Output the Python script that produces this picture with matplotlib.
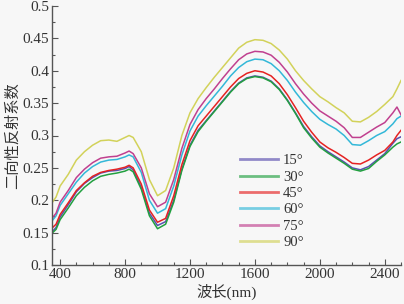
import matplotlib
matplotlib.use('Agg')
import matplotlib.pyplot as plt
from matplotlib.ticker import MultipleLocator

plt.rcParams['font.family'] = ['Liberation Serif', 'Noto Sans CJK SC']

# wavelength grid (nm)
wavelength = [350, 375, 400, 450, 500, 550, 600, 650, 700, 750, 800, 825, 850, 900,
              950, 1000, 1050, 1100, 1150, 1200, 1250, 1300, 1350, 1400, 1450, 1500,
              1550, 1600, 1650, 1700, 1750, 1800, 1850, 1900, 1950, 2000, 2050, 2100,
              2150, 2200, 2250, 2300, 2350, 2400, 2450, 2475, 2500]

brdf_15 = [0.151, 0.158, 0.174, 0.193, 0.213, 0.226, 0.235, 0.242, 0.245, 0.246, 0.249, 0.252,
           0.247, 0.220, 0.180, 0.161, 0.167, 0.200, 0.248, 0.285, 0.308, 0.323, 0.338, 0.353,
           0.368, 0.381, 0.389, 0.392, 0.390, 0.384, 0.372, 0.355, 0.335, 0.314, 0.298, 0.284,
           0.275, 0.267, 0.259, 0.250, 0.247, 0.252, 0.262, 0.272, 0.288, 0.295, 0.298]
brdf_30 = [0.149, 0.155, 0.170, 0.188, 0.207, 0.220, 0.230, 0.237, 0.240, 0.242, 0.245, 0.248,
           0.244, 0.217, 0.176, 0.156, 0.163, 0.197, 0.246, 0.283, 0.306, 0.322, 0.337, 0.352,
           0.367, 0.380, 0.388, 0.391, 0.389, 0.383, 0.371, 0.354, 0.334, 0.312, 0.296, 0.282,
           0.273, 0.265, 0.257, 0.248, 0.245, 0.249, 0.260, 0.270, 0.282, 0.287, 0.290]
brdf_45 = [0.157, 0.163, 0.178, 0.196, 0.215, 0.227, 0.237, 0.243, 0.246, 0.248, 0.251, 0.254,
           0.250, 0.225, 0.185, 0.166, 0.172, 0.207, 0.255, 0.292, 0.315, 0.330, 0.345, 0.360,
           0.375, 0.388, 0.396, 0.400, 0.398, 0.392, 0.380, 0.363, 0.343, 0.322, 0.305, 0.290,
           0.281, 0.274, 0.266, 0.257, 0.256, 0.262, 0.270, 0.277, 0.290, 0.300, 0.308]
brdf_60 = [0.168, 0.176, 0.192, 0.210, 0.228, 0.242, 0.252, 0.259, 0.262, 0.263, 0.267, 0.270,
           0.267, 0.243, 0.200, 0.180, 0.187, 0.222, 0.270, 0.307, 0.330, 0.346, 0.361, 0.376,
           0.392, 0.405, 0.414, 0.418, 0.417, 0.411, 0.400, 0.385, 0.367, 0.351, 0.337, 0.325,
           0.317, 0.310, 0.300, 0.286, 0.285, 0.292, 0.300, 0.306, 0.318, 0.326, 0.330]
brdf_75 = [0.172, 0.180, 0.197, 0.215, 0.235, 0.248, 0.258, 0.265, 0.267, 0.268, 0.273, 0.276,
           0.272, 0.250, 0.210, 0.190, 0.197, 0.232, 0.280, 0.317, 0.340, 0.357, 0.372, 0.388,
           0.403, 0.417, 0.426, 0.430, 0.429, 0.424, 0.413, 0.398, 0.380, 0.364, 0.350, 0.338,
           0.330, 0.322, 0.312, 0.297, 0.297, 0.305, 0.313, 0.320, 0.335, 0.344, 0.332]
brdf_90 = [0.196, 0.205, 0.222, 0.240, 0.262, 0.275, 0.285, 0.292, 0.293, 0.291, 0.297, 0.300,
           0.297, 0.275, 0.232, 0.207, 0.215, 0.250, 0.300, 0.335, 0.357, 0.374, 0.390, 0.405,
           0.420, 0.435, 0.444, 0.448, 0.447, 0.442, 0.432, 0.418, 0.400, 0.385, 0.372, 0.360,
           0.352, 0.343, 0.335, 0.322, 0.321, 0.328, 0.337, 0.348, 0.360, 0.372, 0.385]

labels = ['15°', '30°', '45°', '60°', '75°', '90°']
series = [brdf_15, brdf_30, brdf_45, brdf_60, brdf_75, brdf_90]
colors = ['#5a4fb0', '#22a040', '#e52222', '#33b8d8', '#c0408f', '#d2d25a']

bg = '#f7f7f7'
fig = plt.figure(figsize=(4.04, 3.04), dpi=100, facecolor=bg)
ax = fig.add_axes([52 / 404, 1 - 265 / 304, 349 / 404, 259 / 304], facecolor=bg)

for vals, lab, c in zip(series, labels, colors):
    ax.plot(wavelength, vals, color=c, lw=1.1, label=lab)

ax.set_xlim(350, 2500)
ax.set_ylim(0.1, 0.5)
ax.xaxis.set_major_locator(MultipleLocator(400))
ax.xaxis.set_minor_locator(MultipleLocator(100))
ax.yaxis.set_minor_locator(MultipleLocator(0.025))
ax.set_yticks([0.1, 0.15, 0.2, 0.25, 0.3, 0.35, 0.4, 0.45, 0.5])
ax.set_yticklabels(['0.1', '0.15', '0.2', '0.25', '0.3', '0.35', '0.4', '0.45', '0.5'])

for s in ['top', 'right']:
    ax.spines[s].set_visible(False)
for s in ['left', 'bottom']:
    ax.spines[s].set_color('#555555')
    ax.spines[s].set_linewidth(1.0)

ax.tick_params(which='major', direction='in', length=4, width=0.8, color='#555555',
               labelsize=11, labelcolor='#333333', pad=2)
ax.tick_params(which='minor', direction='in', length=2, width=0.8, color='#555555')

ax.set_xlabel('波长(nm)', fontsize=11, color='#333333', labelpad=2)
ax.set_ylabel('二向性反射系数', fontsize=11, color='#333333', labelpad=2)

leg = ax.legend(loc='upper left', bbox_to_anchor=(240 / 404, 1 - 154 / 304),
                bbox_transform=fig.transFigure, frameon=False, fontsize=10.5,
                handlelength=2.6, handletextpad=0.35, labelspacing=0.22,
                borderpad=0, borderaxespad=0)
for line in leg.get_lines():
    line.set_linewidth(2.0)
    line.set_alpha(0.65)
for t in leg.get_texts():
    t.set_color('#333333')

fig.savefig('out.png', dpi=100, facecolor=bg)
